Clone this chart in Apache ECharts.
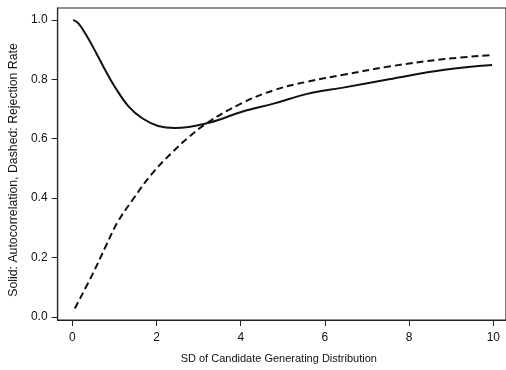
<!DOCTYPE html>
<html>
<head>
<meta charset="utf-8">
<script src="https://cdn.jsdelivr.net/npm/echarts@6/dist/echarts.min.js"></script>
<style>
  html, body { margin: 0; padding: 0; background: #fff; }
  #chart { width: 506px; height: 370px; }
</style>
</head>
<body>
<div id="chart"></div>
<script>
// values
var sdSolid = [0.02, 0.14, 0.33, 0.57, 0.80, 1.03, 1.34, 1.66, 2.04, 2.43, 3.25, 4.03, 4.80, 5.58, 6.43, 7.52, 8.84, 9.97];
var autocorr = [1.0, 0.989, 0.949, 0.888, 0.826, 0.77, 0.708, 0.669, 0.643, 0.636, 0.654, 0.691, 0.719, 0.751, 0.772, 0.800, 0.832, 0.848];

var sdDashed = [0.06, 0.49, 0.80, 1.07, 1.42, 1.89, 2.35, 2.78, 3.25, 4.03, 4.80, 5.58, 6.43, 7.52, 8.84, 9.97];
var rejection = [0.029, 0.147, 0.240, 0.318, 0.392, 0.482, 0.551, 0.607, 0.658, 0.720, 0.764, 0.792, 0.815, 0.843, 0.868, 0.882];

var xTicks = [0, 2, 4, 6, 8, 10];
var yTicks = [0, 0.2, 0.4, 0.6, 0.8, 1.0];

function pairs(xs, ys) {
    var out = [];
    for (var i = 0; i < xs.length; i++) {
        out.push([xs[i], ys[i]]);
    }
    return out;
}

var myChart = echarts.init(document.getElementById('chart'));
var font = 'Liberation Sans, Arial, sans-serif';
var option = {
    animation: false,
    backgroundColor: '#fff',
    grid: {
        left: 49,
        right: -3,
        top: 8,
        bottom: 50,
        show: true,
        borderColor: '#222',
        borderWidth: 1.2
    },
    xAxis: {
        type: 'value',
        min: -0.35,
        max: 10.3,
        name: 'SD of Candidate Generating Distribution',
        nameLocation: 'middle',
        nameGap: 33,
        nameTextStyle: { color: '#111', fontFamily: font, fontSize: 11, padding: [0, 6, 0, 0] },
        splitLine: { show: false },
        axisLine: { show: true, onZero: false, lineStyle: { color: '#222', width: 1.2 } },
        axisTick: { show: true, length: 6, customValues: xTicks, lineStyle: { color: '#222' } },
        axisLabel: {
            customValues: xTicks,
            color: '#111',
            fontFamily: font,
            fontSize: 12,
            margin: 12
        }
    },
    yAxis: {
        type: 'value',
        min: -0.01,
        max: 1.04,
        name: 'Solid: Autocorrelation, Dashed: Rejection Rate',
        nameLocation: 'middle',
        nameGap: 34,
        nameTextStyle: { color: '#111', fontFamily: font, fontSize: 12.3, padding: [0, 12, 0, 0] },
        splitLine: { show: false },
        axisLine: { show: true, onZero: false, lineStyle: { color: '#222', width: 1.2 } },
        axisTick: { show: true, length: 6, customValues: yTicks, lineStyle: { color: '#222' } },
        axisLabel: {
            customValues: yTicks,
            color: '#111',
            fontFamily: font,
            fontSize: 12,
            margin: 10,
            formatter: function (v) { return v.toFixed(1); }
        }
    },
    series: [
        {
            name: 'Autocorrelation',
            type: 'line',
            smooth: 0.4,
            showSymbol: false,
            data: pairs(sdSolid, autocorr),
            lineStyle: { color: '#111', width: 2 }
        },
        {
            name: 'Rejection Rate',
            type: 'line',
            smooth: 0.4,
            showSymbol: false,
            data: pairs(sdDashed, rejection),
            lineStyle: { color: '#111', width: 2, type: [7, 4] }
        }
    ]
};
myChart.setOption(option);
</script>
</body>
</html>
